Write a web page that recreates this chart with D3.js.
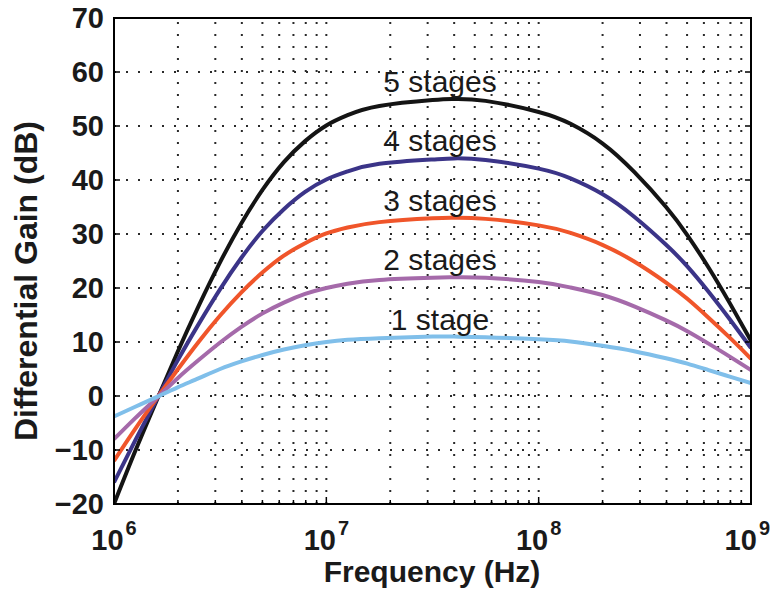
<!DOCTYPE html>
<html>
<head>
<meta charset="utf-8">
<script src="https://cdn.jsdelivr.net/npm/d3@7"></script>
<style>
  body { margin: 0; background: #fff; }
  svg { display: block; }
  text { font-family: "Liberation Sans", Arial, Helvetica, sans-serif; }
</style>
</head>
<body>
<div id="chart"></div>
<script>
// frequencias (Hz)
const freqs = [1e6, 1.259e6, 1.585e6, 1.995e6, 2.512e6, 3.162e6, 3.981e6, 5.012e6, 6.31e6, 7.943e6,
  1e7, 1.259e7, 1.778e7, 3.162e7, 3.981e7, 5.623e7, 1e8, 1.413e8, 1.995e8, 2.818e8,
  3.981e8, 5.012e8, 6.31e8, 7.943e8, 1e9]

// ganho diferencial (dB) para cada numero de estagios
const gain5 = [-20, -10.2, -0.9, 8.2, 16.8, 24.8, 32, 38.2, 43.3, 47.2, 50.1, 52, 53.7, 54.8, 55, 54.65, 52.6, 50.4, 46.8, 41.5, 35, 29.8, 23.8, 17.2, 10.2]
const gain4 = [-16, -8.2, -0.7, 6.6, 13.4, 19.8, 25.6, 30.6, 34.6, 37.8, 40.1, 41.6, 43, 43.8, 44, 43.7, 42.1, 40.3, 37.4, 33.2, 28, 24, 19.3, 14.2, 8.9]
const gain3 = [-12, -6.1, -0.5, 4.9, 10.1, 14.9, 19.2, 22.9, 26, 28.3, 30.1, 31.2, 32.2, 32.9, 33, 32.8, 31.6, 30.2, 28, 24.9, 21, 18, 14.5, 10.8, 6.9]
const gain2 = [-8, -4.1, -0.4, 3.3, 6.7, 9.9, 12.8, 15.3, 17.3, 18.9, 20, 20.8, 21.5, 21.9, 22, 21.9, 21.1, 20.1, 18.7, 16.6, 14, 12, 9.7, 7.3, 4.8]
const gain1 = [-3.8, -2, -0.2, 1.6, 3.3, 5, 6.4, 7.6, 8.6, 9.4, 10, 10.4, 10.7, 11, 11, 10.9, 10.5, 10.1, 9.3, 8.3, 7, 6, 4.8, 3.6, 2.4]

const seriesNames = ["5 stages", "4 stages", "3 stages", "2 stages", "1 stage"]
const seriesGains = [gain5, gain4, gain3, gain2, gain1]
const seriesPeaks = [55, 44, 33, 22, 11]
const labelFreq = 3.43e7
const cores = ["#141414", "#3b3488", "#f0552a", "#a56aaa", "#80bfea"]

const yTicks = [-20, -10, 0, 10, 20, 30, 40, 50, 60, 70]
const xTicks = [1e6, 1e7, 1e8, 1e9]
const xExps = ["6", "7", "8", "9"]

const width = 772
const height = 593
const margem = { left: 114, right: 751, top: 18, bottom: 504 }

const x = d3.scaleLog([1e6, 1e9], [margem.left, margem.right])
const y = d3.scaleLinear([-20, 70], [margem.bottom, margem.top])

const svg = d3.create("svg")
  .attr("width", width)
  .attr("height", height)
  .attr("viewBox", [0, 0, width, height])

svg.append("defs").append("clipPath").attr("id", "clip")
  .append("rect")
  .attr("x", margem.left).attr("y", margem.top)
  .attr("width", margem.right - margem.left)
  .attr("height", margem.bottom - margem.top)

// grelha pontilhada (estilo matlab)
const minorTicks = x.ticks() // 1..9 por decada
const grelha = svg.append("g")
  .attr("stroke", "#2a2a2a")
  .attr("stroke-width", 2)
  .attr("stroke-dasharray", "2,10")

grelha.selectAll("line.v")
  .data(minorTicks.filter(d => d > 1e6 && d < 1e9))
  .join("line")
  .attr("class", "v")
  .attr("x1", d => x(d)).attr("x2", d => x(d))
  .attr("y1", margem.bottom).attr("y2", margem.top)

grelha.selectAll("line.h")
  .data(yTicks.filter(d => d > -20 && d < 70))
  .join("line")
  .attr("class", "h")
  .attr("x1", margem.left).attr("x2", margem.right)
  .attr("y1", d => y(d)).attr("y2", d => y(d))

// curvas (spline natural para ficar suave como no original)
const linha = d3.line()
  .x((d, i) => x(freqs[i]))
  .y(d => y(d))
  .curve(d3.curveNatural)

svg.append("g")
  .attr("clip-path", "url(#clip)")
  .attr("fill", "none")
  .attr("stroke-width", 4)
  .attr("stroke-linejoin", "round")
  .selectAll("path")
  .data(seriesGains)
  .join("path")
  .attr("stroke", (d, i) => cores[i])
  .attr("d", linha)

// nomes das curvas
svg.append("g")
  .attr("text-anchor", "middle")
  .attr("font-size", 30)
  .attr("fill", "#1a1a1a")
  .selectAll("text")
  .data(seriesNames)
  .join("text")
  .attr("x", x(labelFreq))
  .attr("y", (d, i) => y(seriesPeaks[i]) - 7)
  .text(d => d)

// ticks
const ticks = svg.append("g").attr("stroke", "#000").attr("stroke-width", 1.5)
ticks.selectAll("line.bx")
  .data(minorTicks)
  .join("line")
  .attr("class", "bx")
  .attr("x1", d => x(d)).attr("x2", d => x(d))
  .attr("y1", margem.bottom).attr("y2", d => margem.bottom - (xTicks.includes(d) ? 7 : 4))
ticks.selectAll("line.ly")
  .data(yTicks)
  .join("line")
  .attr("class", "ly")
  .attr("x1", margem.left).attr("x2", margem.left + 6)
  .attr("y1", d => y(d)).attr("y2", d => y(d))
ticks.selectAll("line.ry")
  .data(yTicks)
  .join("line")
  .attr("class", "ry")
  .attr("x1", margem.right).attr("x2", margem.right - 6)
  .attr("y1", d => y(d)).attr("y2", d => y(d))

// caixa
svg.append("rect")
  .attr("x", margem.left).attr("y", margem.top)
  .attr("width", margem.right - margem.left)
  .attr("height", margem.bottom - margem.top)
  .attr("fill", "none")
  .attr("stroke", "#000")
  .attr("stroke-width", 2)

// labels do eixo y
svg.append("g")
  .attr("text-anchor", "end")
  .attr("font-size", 29)
  .attr("font-weight", "bold")
  .attr("fill", "#1a1a1a")
  .selectAll("text")
  .data(yTicks)
  .join("text")
  .attr("x", margem.left - 10)
  .attr("y", d => y(d))
  .attr("dy", "0.36em")
  .text(d => d < 0 ? "\u2212" + Math.abs(d) : d)

// labels do eixo x (10 com expoente); o ultimo encosta a direita para caber
const xl = svg.append("g")
  .attr("font-weight", "bold")
  .attr("fill", "#1a1a1a")
  .selectAll("text")
  .data(xTicks)
  .join("text")
  .attr("text-anchor", (d, i) => i === xTicks.length - 1 ? "end" : "middle")
  .attr("x", (d, i) => i === xTicks.length - 1 ? width - 2 : x(d))
  .attr("y", 550)
  .attr("font-size", 29)
xl.append("tspan").text("10")
xl.append("tspan")
  .attr("dy", -15)
  .attr("dx", 2)
  .attr("font-size", 20)
  .text((d, i) => xExps[i])

svg.append("text")
  .attr("x", 432)
  .attr("y", 582)
  .attr("text-anchor", "middle")
  .attr("font-size", 30)
  .attr("font-weight", "bold")
  .attr("fill", "#1a1a1a")
  .text("Frequency (Hz)")

svg.append("text")
  .attr("transform", "translate(37,281) rotate(-90)")
  .attr("text-anchor", "middle")
  .attr("font-size", 32)
  .attr("font-weight", "bold")
  .attr("fill", "#1a1a1a")
  .text("Differential Gain (dB)")

document.getElementById("chart").append(svg.node())
</script>
</body>
</html>
